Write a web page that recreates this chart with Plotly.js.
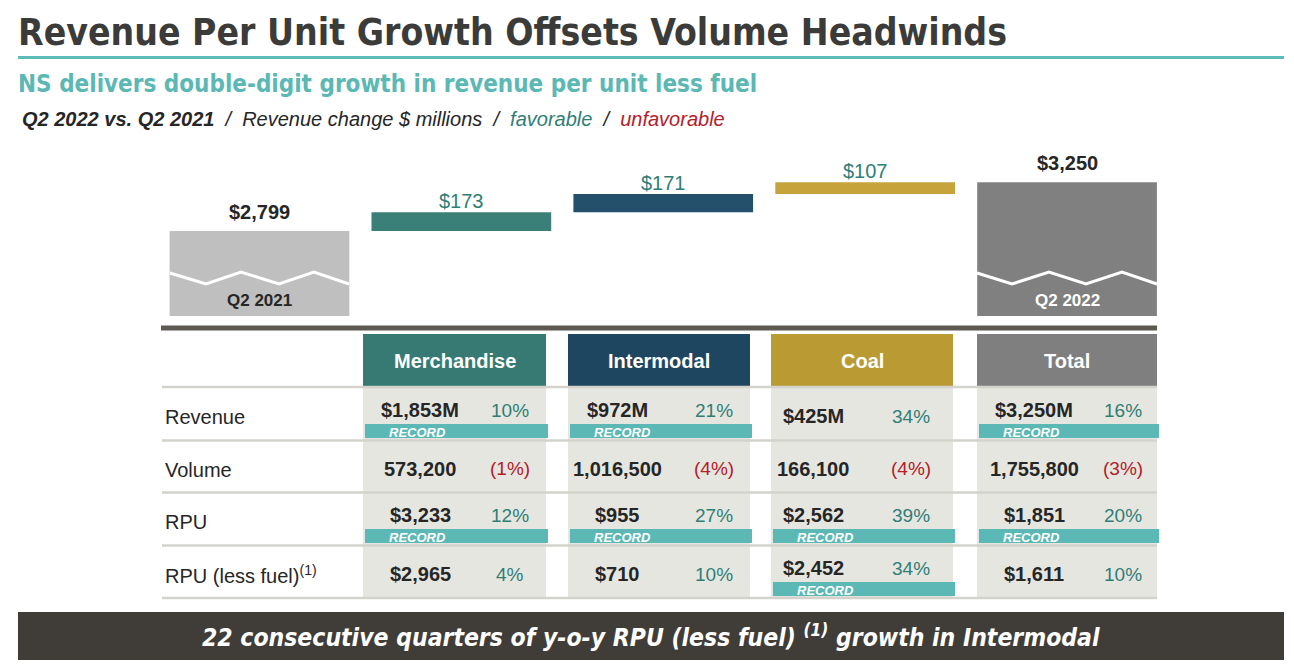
<!DOCTYPE html>
<html><head><meta charset="utf-8">
<script src="https://cdn.plot.ly/plotly-3.0.1.min.js"></script>
<style>html,body{margin:0;padding:0;background:#fff;} #chart{width:1294px;height:664px;}</style>
</head><body><div id="chart"></div>
<script>
// ---------------- data ----------------
const barCategories = ["Q2 2021", "Merchandise", "Intermodal", "Coal", "Q2 2022"];
const barValues = [2799, 173, 171, 107, 3250];
const barMeasures = ["absolute", "relative", "relative", "relative", "total"];

const segments = ["Merchandise", "Intermodal", "Coal", "Total"];
const metricLabels = ["Revenue", "Volume", "RPU", "RPU (less fuel)<sup>(1)</sup>"];
const revenueValues = [1853, 972, 425, 3250];
const revenueGrowth = [10, 21, 34, 16];
const revenueRecord = [true, true, false, true];
const volumeValues = [573200, 1016500, 166100, 1755800];
const volumeGrowth = [-1, -4, -4, -3];
const volumeRecord = [false, false, false, false];
const rpuValues = [3233, 955, 2562, 1851];
const rpuGrowth = [12, 27, 39, 20];
const rpuRecord = [true, true, true, true];
const rpuLessFuelValues = [2965, 710, 2452, 1611];
const rpuLessFuelGrowth = [4, 10, 34, 10];
const rpuLessFuelRecord = [false, false, true, false];

// ---------------- styling / layout ----------------
const W = 1294, H = 664;
const px = v => v / W, py = v => 1 - v / H;
const SANS = "Liberation Sans, Arial, sans-serif";
const NARROW = "DejaVu Sans Condensed, Liberation Sans, sans-serif";
const DARK = "#262626";
const TEAL_TXT = "#2f7e76";
const RED_TXT = "#b3202a";
const RECORD_TEAL = "#5bb8b4";

const barColors = ["#bfbfbf", "#3b8078", "#24506b", "#c6a43b", "#808080"];
const headerColors = ["#367a73", "#1f4660", "#b99a33", "#7f7f7f"];

// waterfall geometry derived from data
let running = 0;
const bases = [], lengths = [];
barValues.forEach((v, i) => {
  const m = barMeasures[i];
  if (m === "absolute") { bases.push(0); lengths.push(v); running = v; }
  else if (m === "relative") { bases.push(running); lengths.push(v); running += v; }
  else { bases.push(0); lengths.push(v); }
});
const money = v => "$" + v.toLocaleString("en-US");

const traces = [{
  type: "bar",
  x: barCategories,
  y: lengths,
  base: bases,
  marker: { color: barColors, line: { width: 0 } },
  hoverinfo: "skip"
}];

const shapes = [];
const annotations = [];
const rect = (x0, y0, x1, y1, color) => shapes.push({ type: "rect", xref: "paper", yref: "paper",
  x0: px(x0), x1: px(x1), y0: py(y1), y1: py(y0), fillcolor: color, line: { width: 0 }, layer: "below" });
const hline = (x0, x1, y, color, w) => shapes.push({ type: "line", xref: "paper", yref: "paper",
  x0: px(x0), x1: px(x1), y0: py(y), y1: py(y), line: { color: color, width: w } });
const ann = (x, y, text, font, xanchor) => annotations.push({ xref: "paper", yref: "paper",
  x: px(x), y: py(y), text: text, showarrow: false, xanchor: xanchor || "center", yanchor: "middle", font: font });

// value labels above the waterfall bars
barValues.forEach((v, i) => {
  const rel = barMeasures[i] === "relative";
  annotations.push({ xref: "x", yref: "y", x: barCategories[i], y: bases[i] + lengths[i],
    text: rel ? money(v) : "<b>" + money(v) + "</b>", showarrow: false, yanchor: "middle",
    yshift: rel ? 11 : 19, font: { family: SANS, size: 20, color: rel ? TEAL_TXT : DARK } });
});

// title block
ann(16, 33, "Revenue Per Unit Growth Offsets Volume Headwinds", { family: NARROW, size: 37, color: "#3b3b39", weight: 700 }, "left");
hline(18, 1284, 57.5, "#5bbcb8", 3);
ann(16, 84, "NS delivers double-digit growth in revenue per unit less fuel", { family: NARROW, size: 24, color: "#5bb8b4", weight: 700 }, "left");
ann(20, 119, "<b><i>Q2 2022 vs. Q2 2021</i></b><i>  /  Revenue change $ millions  /  <span style='color:" + TEAL_TXT + "'>favorable</span>  /  <span style='color:" + RED_TXT + "'>unfavorable</span></i>",
  { family: SANS, size: 20, color: DARK }, "left");

// broken-axis zigzags on the two total bars
const zig = (pts) => {
  let d = "";
  pts.forEach((p, i) => { d += (i ? " L" : "M") + px(p[0]).toFixed(5) + "," + py(p[1]).toFixed(5); });
  shapes.push({ type: "path", xref: "paper", yref: "paper", path: d, line: { color: "#ffffff", width: 3 }, layer: "above" });
};
zig([[170, 273], [206, 284], [241, 272], [279, 284], [314, 272], [349, 284]]);
zig([[977, 273], [1012, 284], [1049, 272], [1086, 284], [1122, 272], [1157, 284]]);
annotations.push({ xref: "x", yref: "paper", x: barCategories[0], y: py(300), text: "<b>" + barCategories[0] + "</b>",
  showarrow: false, font: { family: SANS, size: 17, color: DARK } });
annotations.push({ xref: "x", yref: "paper", x: barCategories[4], y: py(300), text: "<b>" + barCategories[4] + "</b>",
  showarrow: false, font: { family: SANS, size: 17, color: "#ffffff" } });

// dark divider
hline(161, 1157, 328, "#5d5852", 5);

// table
const colL = [363, 568, 771, 977];
const colR = [546, 750, 953, 1157];
const valueX = [420, 617, 813, 1034];
const pctX = [510, 714, 911, 1123];
const rowTop = [388, 441, 493, 546];
const rowBot = [440, 492, 545, 598];
const labelY = [417, 470, 522, 574];

segments.forEach((s, i) => {
  rect(colL[i], 334, colR[i], 386, headerColors[i]);
  rect(colL[i], 387, colR[i], 598, "#e6e6e1");
  ann((colL[i] + colR[i]) / 2, 361, "<b>" + s + "</b>", { family: SANS, size: 20, color: "#ffffff" });
});
[387, 440.5, 492.5, 545.5, 598].forEach(y => hline(162, 1157, y, "#d3d2cb", 2.5));

const rows = [
  { values: revenueValues, growth: revenueGrowth, record: revenueRecord, fmt: v => "$" + v.toLocaleString("en-US") + "M" },
  { values: volumeValues, growth: volumeGrowth, record: volumeRecord, fmt: v => v.toLocaleString("en-US") },
  { values: rpuValues, growth: rpuGrowth, record: rpuRecord, fmt: v => "$" + v.toLocaleString("en-US") },
  { values: rpuLessFuelValues, growth: rpuLessFuelGrowth, record: rpuLessFuelRecord, fmt: v => "$" + v.toLocaleString("en-US") }
];
rows.forEach((r, ri) => {
  ann(163, labelY[ri], metricLabels[ri], { family: SANS, size: 20, color: DARK }, "left");
  const bandTop = rowBot[ri] - 16, bandBot = rowBot[ri] - 2;
  r.values.forEach((v, ci) => {
    const rec = r.record[ci];
    const ty = rec ? bandTop - 14 : (rowTop[ri] + rowBot[ri]) / 2 + 2;
    if (rec) {
      rect(colL[ci] + 2, bandTop, colR[ci] + 2, bandBot, RECORD_TEAL);
      ann(colL[ci] + 54, bandTop + 8, "<b><i>RECORD</i></b>", { family: SANS, size: 13, color: "#ffffff" });
    }
    ann(valueX[ci], ty, "<b>" + r.fmt(v) + "</b>", { family: SANS, size: 20, color: DARK });
    const g = r.growth[ci];
    ann(pctX[ci], ty, g >= 0 ? g + "%" : "(" + Math.abs(g) + "%)", { family: SANS, size: 19, color: g >= 0 ? TEAL_TXT : RED_TXT });
  });
});

// bottom banner
rect(18, 612, 1284, 660, "#403d39");
ann(651, 636, "<b><i>22 consecutive quarters of y-o-y RPU (less fuel) <sup>(1)</sup> growth in Intermodal</i></b>",
  { family: NARROW, size: 24.5, color: "#ffffff" });

const layout = {
  width: W, height: H,
  margin: { l: 0, r: 0, t: 0, b: 0 },
  paper_bgcolor: "#ffffff", plot_bgcolor: "rgba(0,0,0,0)",
  showlegend: false,
  bargap: 0.11,
  xaxis: { type: "category", domain: [px(158.5), px(1168)], range: [-0.5, 4.5], visible: false, fixedrange: true },
  yaxis: { domain: [py(316), py(140)], range: [2012, 3642], visible: false, fixedrange: true },
  shapes: shapes,
  annotations: annotations
};
Plotly.newPlot("chart", traces, layout, { displayModeBar: false, staticPlot: true });
</script>
</body></html>
